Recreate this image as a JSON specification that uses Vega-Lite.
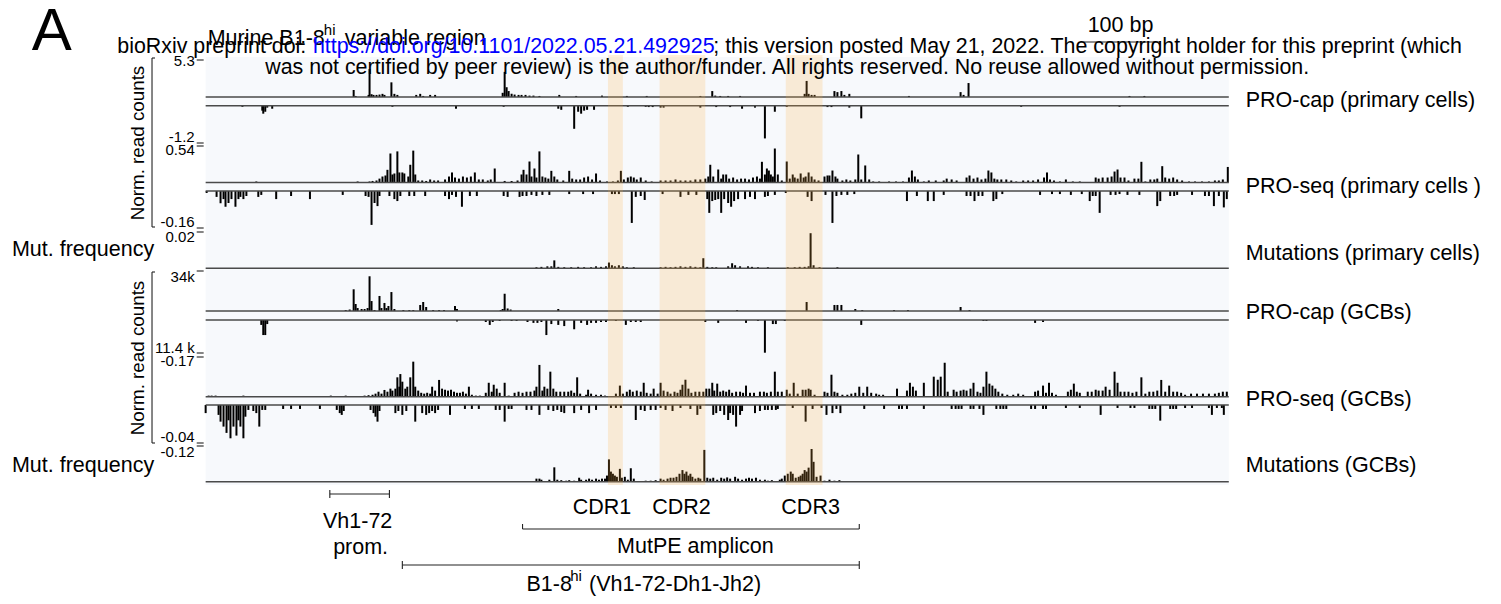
{
"$schema":"https://vega.github.io/schema/vega-lite/v6.json",
"width":1501,"height":604,"padding":0,"autosize":{"type":"none"},
"background":"#ffffff",
"config":{"view":{"stroke":null},"font":"Liberation Sans"},
"datasets":{
"panel":[{"start":0,"end":1030,"top":57,"bottom":485}],
"cdr":[{"region":"CDR1","start":405,"end":420},{"region":"CDR2","start":457,"end":503},{"region":"CDR3","start":584,"end":621}],
"baselines":[{"ly":97},{"ly":105.7},{"ly":182.5},{"ly":191},{"ly":268.3},{"ly":311},{"ly":320},{"ly":396.7},{"ly":405},{"ly":481.7}],
"segments":[
{"start":-9,"end":-2,"ly":60,"ly2":60},{"start":-9,"end":-2,"ly":143,"ly2":143},{"start":-9,"end":-2,"ly":146,"ly2":146},
{"start":-9,"end":-2,"ly":228,"ly2":228},{"start":-9,"end":-2,"ly":232,"ly2":232},{"start":-9,"end":-2,"ly":271,"ly2":271},
{"start":-9,"end":-2,"ly":353,"ly2":353},{"start":-9,"end":-2,"ly":357,"ly2":357},{"start":-9,"end":-2,"ly":443,"ly2":443},{"start":-9,"end":-2,"ly":446,"ly2":446},
{"start":-54,"end":-51,"ly":58,"ly2":58},{"start":-54,"end":-51,"ly":227,"ly2":227},{"start":-54,"end":-54,"ly":58,"ly2":227},
{"start":-54,"end":-51,"ly":272,"ly2":272},{"start":-54,"end":-51,"ly":443,"ly2":443},{"start":-54,"end":-54,"ly":272,"ly2":443},
{"start":880,"end":961,"ly":42,"ly2":42},
{"start":125,"end":185,"ly":494,"ly2":494},{"start":125,"end":125,"ly":490,"ly2":498},{"start":185,"end":185,"ly":490,"ly2":498},
{"start":319,"end":658,"ly":529,"ly2":529},{"start":319,"end":319,"ly":524,"ly2":529},{"start":658,"end":658,"ly":524,"ly2":529},
{"start":198,"end":658,"ly":565,"ly2":565},{"start":198,"end":198,"ly":561,"ly2":569},{"start":658,"end":658,"ly":561,"ly2":569}
],
"labels_left":[
{"pos":-195,"ly":250,"label":"Mut. frequency"},{"pos":-195,"ly":466,"label":"Mut. frequency"},
{"pos":1047,"ly":101,"label":"PRO-cap (primary cells)"},{"pos":1047,"ly":187,"label":"PRO-seq (primary cells )"},
{"pos":1047,"ly":254,"label":"Mutations (primary cells)"},{"pos":1047,"ly":313,"label":"PRO-cap (GCBs)"},
{"pos":1047,"ly":400,"label":"PRO-seq (GCBs)"},{"pos":1047,"ly":466,"label":"Mutations (GCBs)"},
{"pos":2,"ly":39,"label":"Murine B1-8"},{"pos":140,"ly":39,"label":"variable region"},
{"pos":323,"ly":585,"label":"B1-8"},{"pos":386,"ly":585,"label":"(Vh1-72-Dh1-Jh2)"}
],
"header_black":[
{"pos":-89,"ly":47,"label":"bioRxiv preprint doi: "},
{"pos":511,"ly":47,"label":"; this version posted May 21, 2022. The copyright holder for this preprint (which"},
{"pos":60,"ly":68,"label":"was not certified by peer review) is the author/funder. All rights reserved. No reuse allowed without permission."}
],
"header_blue":[{"pos":108,"ly":47,"label":"https://doi.org/10.1101/2022.05.21.492925"}],
"labels_center":[
{"pos":921,"ly":26,"label":"100 bp"},{"pos":153,"ly":522,"label":"Vh1-72"},{"pos":156,"ly":548,"label":"prom."},
{"pos":399,"ly":508,"label":"CDR1"},{"pos":479,"ly":508,"label":"CDR2"},{"pos":609,"ly":508,"label":"CDR3"},
{"pos":493,"ly":547,"label":"MutPE amplicon"}
],
"labels_sup":[{"pos":119,"ly":30,"label":"hi"},{"pos":367,"ly":576,"label":"hi"}],
"tick_labels":[
{"pos":-11,"ly":61,"label":"5.3"},{"pos":-11,"ly":137,"label":"-1.2"},{"pos":-11,"ly":150,"label":"0.54"},
{"pos":-11,"ly":222,"label":"-0.16"},{"pos":-11,"ly":237,"label":"0.02"},{"pos":-11,"ly":277,"label":"34k"},
{"pos":-11,"ly":348,"label":"11.4 k"},{"pos":-11,"ly":361,"label":"-0.17"},{"pos":-11,"ly":437,"label":"-0.04"},
{"pos":-11,"ly":452,"label":"-0.12"}
],
"axis_titles":[{"pos":-68,"ly":143,"label":"Norm. read counts"},{"pos":-68,"ly":358,"label":"Norm. read counts"}],
"panel_letter":[{"pos":-175,"ly":32,"label":"A"}],
"pcap_prim_plus":[
{"pos":149,"value":1.0},{"pos":151,"value":0.15},{"pos":164,"value":0.3},{"pos":165,"value":4.0},{"pos":167,"value":0.4},{"pos":169,"value":0.3},{"pos":172,"value":0.3},{"pos":175,"value":0.35},{"pos":178,"value":0.45},{"pos":180,"value":0.3},{"pos":187,"value":2.1},{"pos":190,"value":0.45},{"pos":193,"value":0.3},{"pos":212,"value":0.3},{"pos":216,"value":0.45},{"pos":219,"value":0.15},{"pos":226,"value":0.3},{"pos":231,"value":0.3},{"pos":299,"value":0.6},{"pos":301,"value":3.6},{"pos":303,"value":1.4},{"pos":305,"value":0.85},{"pos":308,"value":0.45},{"pos":311,"value":0.35},{"pos":315,"value":0.3},{"pos":318,"value":0.3},{"pos":322,"value":0.3},{"pos":326,"value":0.2},{"pos":330,"value":0.2},{"pos":336,"value":0.15},{"pos":356,"value":0.3},{"pos":373,"value":0.15},{"pos":399,"value":0.2},{"pos":424,"value":0.15},{"pos":444,"value":0.15},{"pos":498,"value":0.15},{"pos":510,"value":0.85},{"pos":513,"value":0.2},{"pos":518,"value":0.15},{"pos":526,"value":0.15},{"pos":538,"value":0.15},{"pos":603,"value":0.45},{"pos":605,"value":2.3},{"pos":607,"value":0.45},{"pos":610,"value":0.3},{"pos":613,"value":0.3},{"pos":633,"value":0.85},{"pos":636,"value":0.7},{"pos":640,"value":0.85},{"pos":643,"value":0.3},{"pos":648,"value":0.45},{"pos":708,"value":0.15},{"pos":760,"value":0.7},{"pos":763,"value":0.3},{"pos":768,"value":2.0},{"pos":930,"value":0.15},{"pos":945,"value":0.15}
],
"pcap_prim_minus":[
{"pos":37,"value":-0.04},{"pos":57,"value":-0.18},{"pos":58,"value":-0.29},{"pos":60,"value":-0.22},{"pos":62,"value":-0.07},{"pos":67,"value":-0.11},{"pos":188,"value":-0.04},{"pos":252,"value":-0.11},{"pos":300,"value":-0.04},{"pos":355,"value":-0.11},{"pos":358,"value":-0.15},{"pos":371,"value":-0.84},{"pos":375,"value":-0.22},{"pos":378,"value":-0.29},{"pos":381,"value":-0.18},{"pos":384,"value":-0.15},{"pos":391,"value":-0.15},{"pos":425,"value":-0.04},{"pos":443,"value":-0.04},{"pos":446,"value":-0.05},{"pos":450,"value":-0.05},{"pos":458,"value":-0.07},{"pos":461,"value":-0.07},{"pos":498,"value":-0.07},{"pos":514,"value":-0.05},{"pos":528,"value":-0.05},{"pos":540,"value":-0.11},{"pos":553,"value":-0.07},{"pos":563,"value":-1.19},{"pos":573,"value":-0.22},{"pos":585,"value":-0.04},{"pos":626,"value":-0.05},{"pos":630,"value":-0.05},{"pos":648,"value":-0.07},{"pos":660,"value":-0.46},{"pos":821,"value":-0.04},{"pos":920,"value":-0.04}
],
"pseq_prim_plus":[
{"pos":51,"value":0.013},{"pos":153,"value":0.013},{"pos":165,"value":0.013},{"pos":168,"value":0.02},{"pos":172,"value":0.026},{"pos":175,"value":0.05},{"pos":178,"value":0.077},{"pos":181,"value":0.09},{"pos":183,"value":0.163},{"pos":186,"value":0.373},{"pos":188,"value":0.103},{"pos":190,"value":0.116},{"pos":193,"value":0.4},{"pos":195,"value":0.129},{"pos":198,"value":0.129},{"pos":200,"value":0.116},{"pos":204,"value":0.077},{"pos":206,"value":0.228},{"pos":209,"value":0.41},{"pos":211,"value":0.103},{"pos":214,"value":0.026},{"pos":218,"value":0.026},{"pos":222,"value":0.02},{"pos":226,"value":0.039},{"pos":230,"value":0.026},{"pos":234,"value":0.026},{"pos":241,"value":0.039},{"pos":245,"value":0.077},{"pos":248,"value":0.129},{"pos":251,"value":0.064},{"pos":255,"value":0.05},{"pos":259,"value":0.077},{"pos":263,"value":0.064},{"pos":267,"value":0.077},{"pos":271,"value":0.129},{"pos":275,"value":0.039},{"pos":279,"value":0.039},{"pos":284,"value":0.026},{"pos":287,"value":0.039},{"pos":291,"value":0.18},{"pos":301,"value":0.02},{"pos":308,"value":0.02},{"pos":314,"value":0.026},{"pos":318,"value":0.103},{"pos":320,"value":0.163},{"pos":323,"value":0.103},{"pos":326,"value":0.27},{"pos":328,"value":0.077},{"pos":331,"value":0.18},{"pos":333,"value":0.064},{"pos":336,"value":0.4},{"pos":339,"value":0.077},{"pos":342,"value":0.064},{"pos":345,"value":0.05},{"pos":348,"value":0.15},{"pos":351,"value":0.077},{"pos":354,"value":0.039},{"pos":360,"value":0.026},{"pos":366,"value":0.15},{"pos":369,"value":0.05},{"pos":373,"value":0.039},{"pos":377,"value":0.039},{"pos":381,"value":0.064},{"pos":385,"value":0.077},{"pos":389,"value":0.039},{"pos":393,"value":0.116},{"pos":397,"value":0.026},{"pos":404,"value":0.013},{"pos":410,"value":0.013},{"pos":415,"value":0.026},{"pos":418,"value":0.15},{"pos":421,"value":0.039},{"pos":425,"value":0.064},{"pos":428,"value":0.077},{"pos":431,"value":0.064},{"pos":434,"value":0.039},{"pos":438,"value":0.064},{"pos":443,"value":0.026},{"pos":449,"value":0.013},{"pos":458,"value":0.026},{"pos":463,"value":0.026},{"pos":468,"value":0.026},{"pos":473,"value":0.039},{"pos":478,"value":0.026},{"pos":483,"value":0.026},{"pos":488,"value":0.026},{"pos":493,"value":0.039},{"pos":498,"value":0.039},{"pos":503,"value":0.05},{"pos":506,"value":0.077},{"pos":508,"value":0.228},{"pos":511,"value":0.077},{"pos":516,"value":0.167},{"pos":519,"value":0.05},{"pos":521,"value":0.103},{"pos":524,"value":0.103},{"pos":527,"value":0.05},{"pos":531,"value":0.064},{"pos":535,"value":0.039},{"pos":539,"value":0.05},{"pos":543,"value":0.05},{"pos":547,"value":0.039},{"pos":551,"value":0.064},{"pos":555,"value":0.077},{"pos":558,"value":0.05},{"pos":560,"value":0.266},{"pos":563,"value":0.103},{"pos":565,"value":0.18},{"pos":567,"value":0.154},{"pos":569,"value":0.103},{"pos":571,"value":0.077},{"pos":573,"value":0.437},{"pos":576,"value":0.103},{"pos":580,"value":0.026},{"pos":585,"value":0.27},{"pos":588,"value":0.05},{"pos":591,"value":0.103},{"pos":593,"value":0.064},{"pos":596,"value":0.05},{"pos":599,"value":0.116},{"pos":602,"value":0.064},{"pos":604,"value":0.077},{"pos":607,"value":0.129},{"pos":610,"value":0.077},{"pos":613,"value":0.039},{"pos":617,"value":0.026},{"pos":623,"value":0.077},{"pos":626,"value":0.09},{"pos":628,"value":0.09},{"pos":631,"value":0.154},{"pos":634,"value":0.077},{"pos":636,"value":0.05},{"pos":641,"value":0.026},{"pos":645,"value":0.039},{"pos":649,"value":0.026},{"pos":654,"value":0.039},{"pos":657,"value":0.36},{"pos":660,"value":0.039},{"pos":664,"value":0.219},{"pos":668,"value":0.039},{"pos":672,"value":0.013},{"pos":678,"value":0.013},{"pos":688,"value":0.013},{"pos":695,"value":0.013},{"pos":702,"value":0.013},{"pos":708,"value":0.064},{"pos":711,"value":0.154},{"pos":714,"value":0.077},{"pos":717,"value":0.039},{"pos":723,"value":0.013},{"pos":728,"value":0.026},{"pos":735,"value":0.026},{"pos":743,"value":0.026},{"pos":746,"value":0.05},{"pos":751,"value":0.039},{"pos":756,"value":0.026},{"pos":766,"value":0.064},{"pos":769,"value":0.09},{"pos":773,"value":0.05},{"pos":777,"value":0.064},{"pos":781,"value":0.039},{"pos":785,"value":0.05},{"pos":788,"value":0.154},{"pos":791,"value":0.129},{"pos":794,"value":0.05},{"pos":797,"value":0.039},{"pos":801,"value":0.039},{"pos":806,"value":0.039},{"pos":811,"value":0.026},{"pos":816,"value":0.013},{"pos":823,"value":0.026},{"pos":828,"value":0.026},{"pos":833,"value":0.026},{"pos":838,"value":0.039},{"pos":844,"value":0.064},{"pos":847,"value":0.129},{"pos":850,"value":0.039},{"pos":854,"value":0.026},{"pos":860,"value":0.013},{"pos":866,"value":0.039},{"pos":873,"value":0.013},{"pos":880,"value":0.013},{"pos":896,"value":0.064},{"pos":899,"value":0.05},{"pos":903,"value":0.064},{"pos":908,"value":0.064},{"pos":912,"value":0.077},{"pos":915,"value":0.141},{"pos":918,"value":0.167},{"pos":921,"value":0.064},{"pos":925,"value":0.064},{"pos":929,"value":0.026},{"pos":935,"value":0.05},{"pos":939,"value":0.05},{"pos":942,"value":0.266},{"pos":946,"value":0.013},{"pos":951,"value":0.039},{"pos":955,"value":0.039},{"pos":958,"value":0.05},{"pos":963,"value":0.21},{"pos":966,"value":0.064},{"pos":970,"value":0.05},{"pos":974,"value":0.064},{"pos":978,"value":0.039},{"pos":983,"value":0.026},{"pos":990,"value":0.013},{"pos":996,"value":0.013},{"pos":1003,"value":0.013},{"pos":1010,"value":0.013},{"pos":1016,"value":0.026},{"pos":1020,"value":0.026},{"pos":1024,"value":0.039},{"pos":1029,"value":0.2}
],
"pseq_prim_minus":[
{"pos":1,"value":-0.009},{"pos":11,"value":-0.027},{"pos":15,"value":-0.056},{"pos":18,"value":-0.037},{"pos":20,"value":-0.072},{"pos":23,"value":-0.055},{"pos":26,"value":-0.037},{"pos":30,"value":-0.072},{"pos":33,"value":-0.037},{"pos":35,"value":-0.027},{"pos":38,"value":-0.037},{"pos":41,"value":-0.023},{"pos":53,"value":-0.027},{"pos":56,"value":-0.018},{"pos":71,"value":-0.037},{"pos":86,"value":-0.023},{"pos":105,"value":-0.037},{"pos":138,"value":-0.018},{"pos":161,"value":-0.023},{"pos":164,"value":-0.027},{"pos":167,"value":-0.155},{"pos":170,"value":-0.055},{"pos":173,"value":-0.069},{"pos":175,"value":-0.023},{"pos":185,"value":-0.023},{"pos":190,"value":-0.037},{"pos":193,"value":-0.046},{"pos":196,"value":-0.023},{"pos":205,"value":-0.023},{"pos":210,"value":-0.023},{"pos":221,"value":-0.023},{"pos":241,"value":-0.023},{"pos":245,"value":-0.037},{"pos":248,"value":-0.018},{"pos":252,"value":-0.027},{"pos":258,"value":-0.072},{"pos":266,"value":-0.023},{"pos":273,"value":-0.023},{"pos":300,"value":-0.023},{"pos":304,"value":-0.027},{"pos":316,"value":-0.027},{"pos":319,"value":-0.023},{"pos":323,"value":-0.023},{"pos":328,"value":-0.018},{"pos":333,"value":-0.023},{"pos":339,"value":-0.018},{"pos":346,"value":-0.018},{"pos":366,"value":-0.014},{"pos":380,"value":-0.014},{"pos":390,"value":-0.014},{"pos":409,"value":-0.014},{"pos":412,"value":-0.014},{"pos":416,"value":-0.014},{"pos":429,"value":-0.146},{"pos":433,"value":-0.027},{"pos":438,"value":-0.023},{"pos":442,"value":-0.041},{"pos":460,"value":-0.014},{"pos":478,"value":-0.027},{"pos":486,"value":-0.018},{"pos":494,"value":-0.018},{"pos":505,"value":-0.037},{"pos":507,"value":-0.1},{"pos":510,"value":-0.046},{"pos":513,"value":-0.041},{"pos":516,"value":-0.037},{"pos":519,"value":-0.1},{"pos":522,"value":-0.037},{"pos":526,"value":-0.055},{"pos":529,"value":-0.072},{"pos":532,"value":-0.046},{"pos":536,"value":-0.037},{"pos":543,"value":-0.037},{"pos":548,"value":-0.027},{"pos":553,"value":-0.037},{"pos":563,"value":-0.027},{"pos":566,"value":-0.023},{"pos":573,"value":-0.018},{"pos":584,"value":-0.009},{"pos":606,"value":-0.027},{"pos":610,"value":-0.046},{"pos":624,"value":-0.018},{"pos":631,"value":-0.146},{"pos":635,"value":-0.023},{"pos":640,"value":-0.018},{"pos":646,"value":-0.018},{"pos":653,"value":-0.014},{"pos":706,"value":-0.046},{"pos":716,"value":-0.023},{"pos":727,"value":-0.046},{"pos":733,"value":-0.046},{"pos":743,"value":-0.018},{"pos":766,"value":-0.023},{"pos":770,"value":-0.023},{"pos":774,"value":-0.046},{"pos":778,"value":-0.023},{"pos":782,"value":-0.023},{"pos":793,"value":-0.046},{"pos":796,"value":-0.037},{"pos":802,"value":-0.014},{"pos":840,"value":-0.018},{"pos":852,"value":-0.014},{"pos":860,"value":-0.014},{"pos":871,"value":-0.018},{"pos":882,"value":-0.014},{"pos":890,"value":-0.046},{"pos":893,"value":-0.023},{"pos":896,"value":-0.023},{"pos":900,"value":-0.1},{"pos":911,"value":-0.018},{"pos":916,"value":-0.018},{"pos":920,"value":-0.014},{"pos":928,"value":-0.018},{"pos":940,"value":-0.018},{"pos":958,"value":-0.069},{"pos":961,"value":-0.046},{"pos":971,"value":-0.023},{"pos":975,"value":-0.023},{"pos":978,"value":-0.018},{"pos":993,"value":-0.018},{"pos":1006,"value":-0.023},{"pos":1010,"value":-0.023},{"pos":1015,"value":-0.069},{"pos":1020,"value":-0.023},{"pos":1025,"value":-0.075},{"pos":1028,"value":-0.037}
],
"mut_prim":[
{"pos":333,"value":0.0006},{"pos":338,"value":0.0008},{"pos":344,"value":0.0011},{"pos":348,"value":0.0011},{"pos":351,"value":0.0044},{"pos":355,"value":0.0008},{"pos":361,"value":0.0006},{"pos":368,"value":0.0006},{"pos":375,"value":0.0008},{"pos":381,"value":0.0006},{"pos":388,"value":0.0006},{"pos":393,"value":0.0011},{"pos":398,"value":0.0008},{"pos":403,"value":0.0011},{"pos":406,"value":0.0032},{"pos":409,"value":0.0017},{"pos":412,"value":0.0011},{"pos":416,"value":0.0017},{"pos":420,"value":0.0011},{"pos":424,"value":0.0006},{"pos":431,"value":0.0006},{"pos":458,"value":0.0006},{"pos":463,"value":0.0008},{"pos":468,"value":0.0006},{"pos":473,"value":0.0008},{"pos":478,"value":0.0011},{"pos":483,"value":0.0008},{"pos":488,"value":0.0011},{"pos":493,"value":0.0008},{"pos":498,"value":0.0006},{"pos":501,"value":0.0056},{"pos":505,"value":0.0008},{"pos":510,"value":0.0006},{"pos":514,"value":0.0006},{"pos":526,"value":0.0011},{"pos":530,"value":0.0028},{"pos":533,"value":0.0017},{"pos":538,"value":0.0011},{"pos":546,"value":0.0011},{"pos":550,"value":0.0008},{"pos":556,"value":0.0006},{"pos":566,"value":0.0006},{"pos":586,"value":0.0006},{"pos":593,"value":0.0006},{"pos":598,"value":0.0008},{"pos":603,"value":0.0008},{"pos":607,"value":0.0011},{"pos":609,"value":0.0195},{"pos":612,"value":0.0017},{"pos":618,"value":0.0006},{"pos":636,"value":0.0006}
],
"pcap_gcb_plus":[
{"pos":141,"value":900},{"pos":145,"value":1400},{"pos":149,"value":20500},{"pos":151,"value":6600},{"pos":153,"value":2800},{"pos":157,"value":1900},{"pos":160,"value":1900},{"pos":163,"value":2800},{"pos":165,"value":32800},{"pos":167,"value":9400},{"pos":170,"value":900},{"pos":175,"value":14200},{"pos":177,"value":2800},{"pos":180,"value":7600},{"pos":182,"value":2800},{"pos":184,"value":4700},{"pos":187,"value":17900},{"pos":190,"value":1900},{"pos":199,"value":900},{"pos":205,"value":900},{"pos":209,"value":900},{"pos":216,"value":5700},{"pos":219,"value":8500},{"pos":222,"value":3800},{"pos":229,"value":900},{"pos":235,"value":900},{"pos":240,"value":900},{"pos":251,"value":4700},{"pos":253,"value":1900},{"pos":297,"value":900},{"pos":299,"value":1900},{"pos":301,"value":16300},{"pos":304,"value":2400},{"pos":307,"value":1400},{"pos":355,"value":1900},{"pos":535,"value":900},{"pos":605,"value":8500},{"pos":633,"value":5700},{"pos":636,"value":5700},{"pos":640,"value":5700},{"pos":654,"value":1900},{"pos":661,"value":900},{"pos":693,"value":900},{"pos":707,"value":900},{"pos":760,"value":3800},{"pos":769,"value":900}
],
"pcap_gcb_minus":[
{"pos":56,"value":-1700},{"pos":58,"value":-5200},{"pos":60,"value":-5200},{"pos":62,"value":-1400},{"pos":253,"value":-500},{"pos":282,"value":-700},{"pos":286,"value":-1700},{"pos":289,"value":-700},{"pos":296,"value":-350},{"pos":308,"value":-350},{"pos":313,"value":-350},{"pos":324,"value":-700},{"pos":330,"value":-1000},{"pos":334,"value":-1000},{"pos":338,"value":-700},{"pos":343,"value":-5200},{"pos":348,"value":-1400},{"pos":355,"value":-1700},{"pos":361,"value":-2100},{"pos":371,"value":-3200},{"pos":378,"value":-1000},{"pos":384,"value":-1700},{"pos":388,"value":-1000},{"pos":393,"value":-1000},{"pos":398,"value":-700},{"pos":403,"value":-700},{"pos":413,"value":-350},{"pos":423,"value":-1700},{"pos":428,"value":-700},{"pos":433,"value":-700},{"pos":438,"value":-700},{"pos":503,"value":-700},{"pos":516,"value":-1000},{"pos":544,"value":-1000},{"pos":556,"value":-350},{"pos":563,"value":-11300},{"pos":571,"value":-1400},{"pos":574,"value":-1400},{"pos":583,"value":-350},{"pos":660,"value":-1700},{"pos":783,"value":-350},{"pos":786,"value":-350},{"pos":835,"value":-1000},{"pos":843,"value":-700}
],
"pseq_gcb_plus":[
{"pos":3,"value":0.005},{"pos":6,"value":0.005},{"pos":10,"value":0.005},{"pos":38,"value":0.005},{"pos":126,"value":0.005},{"pos":141,"value":0.005},{"pos":160,"value":0.005},{"pos":164,"value":0.007},{"pos":168,"value":0.009},{"pos":171,"value":0.014},{"pos":174,"value":0.023},{"pos":177,"value":0.014},{"pos":180,"value":0.031},{"pos":183,"value":0.023},{"pos":186,"value":0.037},{"pos":188,"value":0.028},{"pos":191,"value":0.037},{"pos":193,"value":0.089},{"pos":195,"value":0.046},{"pos":196,"value":0.104},{"pos":198,"value":0.069},{"pos":201,"value":0.037},{"pos":203,"value":0.046},{"pos":206,"value":0.089},{"pos":209,"value":0.161},{"pos":211,"value":0.046},{"pos":214,"value":0.028},{"pos":217,"value":0.018},{"pos":220,"value":0.014},{"pos":223,"value":0.018},{"pos":226,"value":0.014},{"pos":228,"value":0.046},{"pos":231,"value":0.028},{"pos":235,"value":0.077},{"pos":238,"value":0.037},{"pos":241,"value":0.032},{"pos":244,"value":0.028},{"pos":247,"value":0.032},{"pos":250,"value":0.023},{"pos":253,"value":0.018},{"pos":256,"value":0.018},{"pos":259,"value":0.023},{"pos":262,"value":0.014},{"pos":265,"value":0.046},{"pos":268,"value":0.009},{"pos":272,"value":0.005},{"pos":276,"value":0.005},{"pos":282,"value":0.018},{"pos":285,"value":0.064},{"pos":288,"value":0.023},{"pos":290,"value":0.055},{"pos":293,"value":0.037},{"pos":296,"value":0.018},{"pos":301,"value":0.064},{"pos":305,"value":0.005},{"pos":311,"value":0.018},{"pos":315,"value":0.023},{"pos":319,"value":0.018},{"pos":323,"value":0.023},{"pos":327,"value":0.023},{"pos":331,"value":0.028},{"pos":333,"value":0.046},{"pos":336,"value":0.146},{"pos":339,"value":0.028},{"pos":341,"value":0.046},{"pos":344,"value":0.037},{"pos":347,"value":0.115},{"pos":350,"value":0.037},{"pos":353,"value":0.023},{"pos":357,"value":0.023},{"pos":361,"value":0.023},{"pos":365,"value":0.023},{"pos":368,"value":0.028},{"pos":371,"value":0.018},{"pos":374,"value":0.089},{"pos":377,"value":0.014},{"pos":383,"value":0.009},{"pos":385,"value":0.032},{"pos":388,"value":0.014},{"pos":393,"value":0.009},{"pos":398,"value":0.009},{"pos":402,"value":0.005},{"pos":413,"value":0.014},{"pos":417,"value":0.051},{"pos":420,"value":0.014},{"pos":424,"value":0.023},{"pos":427,"value":0.032},{"pos":430,"value":0.023},{"pos":434,"value":0.028},{"pos":438,"value":0.023},{"pos":441,"value":0.064},{"pos":444,"value":0.018},{"pos":448,"value":0.014},{"pos":451,"value":0.037},{"pos":455,"value":0.014},{"pos":458,"value":0.064},{"pos":461,"value":0.028},{"pos":465,"value":0.023},{"pos":468,"value":0.014},{"pos":472,"value":0.023},{"pos":475,"value":0.018},{"pos":478,"value":0.032},{"pos":480,"value":0.055},{"pos":483,"value":0.078},{"pos":486,"value":0.037},{"pos":489,"value":0.018},{"pos":493,"value":0.023},{"pos":497,"value":0.023},{"pos":501,"value":0.023},{"pos":504,"value":0.037},{"pos":507,"value":0.037},{"pos":510,"value":0.064},{"pos":512,"value":0.028},{"pos":515,"value":0.06},{"pos":518,"value":0.023},{"pos":521,"value":0.028},{"pos":524,"value":0.023},{"pos":527,"value":0.032},{"pos":530,"value":0.018},{"pos":534,"value":0.023},{"pos":538,"value":0.023},{"pos":541,"value":0.018},{"pos":544,"value":0.051},{"pos":548,"value":0.018},{"pos":552,"value":0.018},{"pos":558,"value":0.023},{"pos":562,"value":0.023},{"pos":565,"value":0.018},{"pos":569,"value":0.023},{"pos":573,"value":0.115},{"pos":576,"value":0.023},{"pos":580,"value":0.023},{"pos":585,"value":0.032},{"pos":588,"value":0.014},{"pos":592,"value":0.064},{"pos":596,"value":0.014},{"pos":601,"value":0.032},{"pos":604,"value":0.032},{"pos":607,"value":0.037},{"pos":609,"value":0.032},{"pos":613,"value":0.009},{"pos":623,"value":0.023},{"pos":626,"value":0.018},{"pos":630,"value":0.101},{"pos":633,"value":0.023},{"pos":636,"value":0.018},{"pos":641,"value":0.009},{"pos":646,"value":0.009},{"pos":650,"value":0.014},{"pos":654,"value":0.018},{"pos":658,"value":0.046},{"pos":662,"value":0.018},{"pos":666,"value":0.046},{"pos":670,"value":0.018},{"pos":675,"value":0.014},{"pos":678,"value":0.009},{"pos":682,"value":0.009},{"pos":696,"value":0.037},{"pos":706,"value":0.028},{"pos":709,"value":0.064},{"pos":712,"value":0.046},{"pos":715,"value":0.028},{"pos":723,"value":0.064},{"pos":733,"value":0.092},{"pos":737,"value":0.078},{"pos":740,"value":0.092},{"pos":744,"value":0.156},{"pos":747,"value":0.023},{"pos":753,"value":0.032},{"pos":756,"value":0.023},{"pos":760,"value":0.028},{"pos":763,"value":0.032},{"pos":766,"value":0.028},{"pos":770,"value":0.037},{"pos":773,"value":0.064},{"pos":777,"value":0.023},{"pos":780,"value":0.018},{"pos":783,"value":0.046},{"pos":786,"value":0.115},{"pos":789,"value":0.06},{"pos":792,"value":0.051},{"pos":795,"value":0.037},{"pos":798,"value":0.023},{"pos":802,"value":0.014},{"pos":807,"value":0.009},{"pos":813,"value":0.009},{"pos":818,"value":0.014},{"pos":823,"value":0.009},{"pos":835,"value":0.023},{"pos":838,"value":0.028},{"pos":843,"value":0.051},{"pos":846,"value":0.018},{"pos":849,"value":0.064},{"pos":852,"value":0.018},{"pos":856,"value":0.009},{"pos":868,"value":0.023},{"pos":871,"value":0.032},{"pos":874,"value":0.06},{"pos":877,"value":0.023},{"pos":880,"value":0.018},{"pos":888,"value":0.023},{"pos":892,"value":0.023},{"pos":896,"value":0.032},{"pos":899,"value":0.028},{"pos":903,"value":0.028},{"pos":906,"value":0.046},{"pos":910,"value":0.032},{"pos":915,"value":0.115},{"pos":918,"value":0.064},{"pos":921,"value":0.023},{"pos":925,"value":0.023},{"pos":929,"value":0.023},{"pos":933,"value":0.018},{"pos":937,"value":0.023},{"pos":942,"value":0.089},{"pos":946,"value":0.014},{"pos":950,"value":0.023},{"pos":954,"value":0.023},{"pos":958,"value":0.028},{"pos":962,"value":0.077},{"pos":966,"value":0.023},{"pos":970,"value":0.051},{"pos":974,"value":0.023},{"pos":978,"value":0.023},{"pos":982,"value":0.018},{"pos":986,"value":0.009},{"pos":992,"value":0.014},{"pos":998,"value":0.014},{"pos":1004,"value":0.014},{"pos":1010,"value":0.014},{"pos":1016,"value":0.014},{"pos":1020,"value":0.018},{"pos":1024,"value":0.023},{"pos":1028,"value":0.023}
],
"pseq_gcb_minus":[
{"pos":0,"value":-0.009},{"pos":13,"value":-0.011},{"pos":15,"value":-0.0185},{"pos":18,"value":-0.024},{"pos":21,"value":-0.031},{"pos":23,"value":-0.017},{"pos":25,"value":-0.037},{"pos":28,"value":-0.024},{"pos":31,"value":-0.034},{"pos":33,"value":-0.017},{"pos":35,"value":-0.024},{"pos":38,"value":-0.037},{"pos":40,"value":-0.013},{"pos":43,"value":-0.0055},{"pos":48,"value":-0.0067},{"pos":51,"value":-0.009},{"pos":54,"value":-0.024},{"pos":57,"value":-0.0055},{"pos":60,"value":-0.0055},{"pos":78,"value":-0.0044},{"pos":86,"value":-0.0044},{"pos":95,"value":-0.0044},{"pos":115,"value":-0.0044},{"pos":132,"value":-0.0055},{"pos":135,"value":-0.009},{"pos":137,"value":-0.011},{"pos":139,"value":-0.0067},{"pos":166,"value":-0.0055},{"pos":169,"value":-0.009},{"pos":171,"value":-0.013},{"pos":173,"value":-0.0185},{"pos":175,"value":-0.0067},{"pos":191,"value":-0.009},{"pos":194,"value":-0.0067},{"pos":198,"value":-0.011},{"pos":202,"value":-0.0067},{"pos":211,"value":-0.0185},{"pos":218,"value":-0.009},{"pos":222,"value":-0.011},{"pos":225,"value":-0.009},{"pos":228,"value":-0.0067},{"pos":231,"value":-0.009},{"pos":234,"value":-0.0055},{"pos":246,"value":-0.011},{"pos":261,"value":-0.0044},{"pos":268,"value":-0.0044},{"pos":275,"value":-0.0044},{"pos":292,"value":-0.0055},{"pos":296,"value":-0.0055},{"pos":301,"value":-0.0185},{"pos":305,"value":-0.0044},{"pos":308,"value":-0.0044},{"pos":323,"value":-0.0055},{"pos":328,"value":-0.0055},{"pos":336,"value":-0.011},{"pos":345,"value":-0.0055},{"pos":350,"value":-0.0067},{"pos":354,"value":-0.0055},{"pos":358,"value":-0.0078},{"pos":361,"value":-0.009},{"pos":371,"value":-0.009},{"pos":378,"value":-0.0055},{"pos":386,"value":-0.009},{"pos":393,"value":-0.0055},{"pos":408,"value":-0.0033},{"pos":413,"value":-0.0033},{"pos":418,"value":-0.0033},{"pos":433,"value":-0.0167},{"pos":438,"value":-0.0055},{"pos":442,"value":-0.0067},{"pos":448,"value":-0.0055},{"pos":453,"value":-0.0055},{"pos":458,"value":-0.0033},{"pos":463,"value":-0.0055},{"pos":470,"value":-0.0067},{"pos":478,"value":-0.0033},{"pos":488,"value":-0.0044},{"pos":495,"value":-0.011},{"pos":498,"value":-0.0044},{"pos":511,"value":-0.011},{"pos":514,"value":-0.009},{"pos":518,"value":-0.0067},{"pos":522,"value":-0.011},{"pos":526,"value":-0.0167},{"pos":528,"value":-0.009},{"pos":531,"value":-0.011},{"pos":534,"value":-0.024},{"pos":538,"value":-0.011},{"pos":540,"value":-0.0067},{"pos":553,"value":-0.009},{"pos":558,"value":-0.0067},{"pos":563,"value":-0.0055},{"pos":566,"value":-0.0055},{"pos":570,"value":-0.0055},{"pos":574,"value":-0.0055},{"pos":576,"value":-0.0044},{"pos":591,"value":-0.0033},{"pos":604,"value":-0.0185},{"pos":611,"value":-0.0044},{"pos":620,"value":-0.0033},{"pos":625,"value":-0.011},{"pos":631,"value":-0.009},{"pos":635,"value":-0.0044},{"pos":639,"value":-0.009},{"pos":663,"value":-0.0044},{"pos":683,"value":-0.0044},{"pos":698,"value":-0.0044},{"pos":701,"value":-0.0044},{"pos":706,"value":-0.0044},{"pos":723,"value":-0.0044},{"pos":751,"value":-0.0044},{"pos":755,"value":-0.0044},{"pos":758,"value":-0.0044},{"pos":761,"value":-0.0044},{"pos":770,"value":-0.0044},{"pos":773,"value":-0.0044},{"pos":779,"value":-0.0044},{"pos":783,"value":-0.011},{"pos":796,"value":-0.0044},{"pos":800,"value":-0.0044},{"pos":803,"value":-0.0044},{"pos":806,"value":-0.0044},{"pos":831,"value":-0.0044},{"pos":835,"value":-0.0044},{"pos":843,"value":-0.0044},{"pos":846,"value":-0.0044},{"pos":866,"value":-0.0033},{"pos":880,"value":-0.0033},{"pos":901,"value":-0.011},{"pos":918,"value":-0.0033},{"pos":931,"value":-0.0033},{"pos":935,"value":-0.0033},{"pos":950,"value":-0.0044},{"pos":953,"value":-0.0044},{"pos":956,"value":-0.0044},{"pos":961,"value":-0.0174},{"pos":971,"value":-0.0044},{"pos":974,"value":-0.0044},{"pos":977,"value":-0.0044},{"pos":986,"value":-0.0033},{"pos":993,"value":-0.0033},{"pos":1010,"value":-0.0033},{"pos":1013,"value":-0.011},{"pos":1018,"value":-0.0033},{"pos":1023,"value":-0.0033},{"pos":1025,"value":-0.011}
],
"mut_gcb":[
{"pos":333,"value":0.01},{"pos":336,"value":0.01},{"pos":338,"value":0.0065},{"pos":346,"value":0.0065},{"pos":351,"value":0.047},{"pos":354,"value":0.0065},{"pos":358,"value":0.005},{"pos":363,"value":0.0033},{"pos":366,"value":0.005},{"pos":371,"value":0.0033},{"pos":376,"value":0.013},{"pos":378,"value":0.0065},{"pos":383,"value":0.0065},{"pos":386,"value":0.01},{"pos":389,"value":0.0065},{"pos":393,"value":0.01},{"pos":396,"value":0.0065},{"pos":399,"value":0.01},{"pos":402,"value":0.01},{"pos":404,"value":0.02},{"pos":406,"value":0.073},{"pos":408,"value":0.033},{"pos":410,"value":0.026},{"pos":412,"value":0.02},{"pos":414,"value":0.016},{"pos":417,"value":0.042},{"pos":419,"value":0.013},{"pos":422,"value":0.016},{"pos":425,"value":0.0065},{"pos":428,"value":0.044},{"pos":431,"value":0.01},{"pos":443,"value":0.0033},{"pos":448,"value":0.0033},{"pos":453,"value":0.005},{"pos":458,"value":0.01},{"pos":461,"value":0.0065},{"pos":465,"value":0.01},{"pos":468,"value":0.013},{"pos":471,"value":0.013},{"pos":474,"value":0.016},{"pos":477,"value":0.026},{"pos":480,"value":0.038},{"pos":482,"value":0.026},{"pos":484,"value":0.033},{"pos":486,"value":0.02},{"pos":488,"value":0.026},{"pos":490,"value":0.016},{"pos":493,"value":0.01},{"pos":496,"value":0.013},{"pos":498,"value":0.01},{"pos":502,"value":0.104},{"pos":505,"value":0.013},{"pos":508,"value":0.01},{"pos":511,"value":0.013},{"pos":515,"value":0.0065},{"pos":519,"value":0.013},{"pos":522,"value":0.01},{"pos":525,"value":0.014},{"pos":528,"value":0.01},{"pos":533,"value":0.016},{"pos":536,"value":0.01},{"pos":540,"value":0.0065},{"pos":544,"value":0.01},{"pos":547,"value":0.013},{"pos":550,"value":0.01},{"pos":554,"value":0.013},{"pos":558,"value":0.0065},{"pos":563,"value":0.0065},{"pos":566,"value":0.0033},{"pos":570,"value":0.005},{"pos":578,"value":0.0065},{"pos":580,"value":0.01},{"pos":583,"value":0.02},{"pos":586,"value":0.026},{"pos":589,"value":0.033},{"pos":591,"value":0.026},{"pos":594,"value":0.013},{"pos":597,"value":0.016},{"pos":599,"value":0.02},{"pos":601,"value":0.026},{"pos":603,"value":0.038},{"pos":605,"value":0.033},{"pos":607,"value":0.046},{"pos":610,"value":0.107},{"pos":612,"value":0.065},{"pos":615,"value":0.016},{"pos":619,"value":0.02},{"pos":623,"value":0.0033},{"pos":628,"value":0.0065},{"pos":633,"value":0.0033},{"pos":638,"value":0.005}
]
},
"resolve":{"scale":{"y":"independent"}},
"layer":[
{"data":{"name":"panel"},"mark":{"type":"rect","color":"#f7f9fc"},
 "encoding":{"x":{"field":"start","type":"quantitative","scale":{"domain":[-202,1299],"nice":false,"zero":false},"axis":null},"x2":{"field":"end"},
 "y":{"field":"top","type":"quantitative","scale":{"domain":[0,604],"range":[0,604],"nice":false,"zero":false},"axis":null},"y2":{"field":"bottom"}}},
{"data":{"name":"pcap_prim_plus"},"mark":{"type":"bar","orient":"vertical","size":2,"color":"#000000"},
 "encoding":{"x":{"field":"pos","type":"quantitative","scale":{"domain":[-202,1299],"nice":false,"zero":false},"axis":null},
 "y":{"field":"value","type":"quantitative","scale":{"domain":[0,5.3],"range":[97,60],"nice":false},"axis":null},"y2":{"datum":0}}},
{"data":{"name":"pcap_prim_minus"},"mark":{"type":"bar","orient":"vertical","size":2,"color":"#000000"},
 "encoding":{"x":{"field":"pos","type":"quantitative","scale":{"domain":[-202,1299],"nice":false,"zero":false},"axis":null},
 "y":{"field":"value","type":"quantitative","scale":{"domain":[-1.2,0],"range":[138.7,105.7],"nice":false},"axis":null},"y2":{"datum":0}}},
{"data":{"name":"pseq_prim_plus"},"mark":{"type":"bar","orient":"vertical","size":2,"color":"#000000"},
 "encoding":{"x":{"field":"pos","type":"quantitative","scale":{"domain":[-202,1299],"nice":false,"zero":false},"axis":null},
 "y":{"field":"value","type":"quantitative","scale":{"domain":[0,0.54],"range":[182.5,140.5],"nice":false},"axis":null},"y2":{"datum":0}}},
{"data":{"name":"pseq_prim_minus"},"mark":{"type":"bar","orient":"vertical","size":2,"color":"#000000"},
 "encoding":{"x":{"field":"pos","type":"quantitative","scale":{"domain":[-202,1299],"nice":false,"zero":false},"axis":null},
 "y":{"field":"value","type":"quantitative","scale":{"domain":[-0.16,0],"range":[226,191],"nice":false},"axis":null},"y2":{"datum":0}}},
{"data":{"name":"mut_prim"},"mark":{"type":"bar","orient":"vertical","size":2,"color":"#000000"},
 "encoding":{"x":{"field":"pos","type":"quantitative","scale":{"domain":[-202,1299],"nice":false,"zero":false},"axis":null},
 "y":{"field":"value","type":"quantitative","scale":{"domain":[0,0.02],"range":[268.3,232.3],"nice":false},"axis":null},"y2":{"datum":0}}},
{"data":{"name":"pcap_gcb_plus"},"mark":{"type":"bar","orient":"vertical","size":2,"color":"#000000"},
 "encoding":{"x":{"field":"pos","type":"quantitative","scale":{"domain":[-202,1299],"nice":false,"zero":false},"axis":null},
 "y":{"field":"value","type":"quantitative","scale":{"domain":[0,34000],"range":[311,275],"nice":false},"axis":null},"y2":{"datum":0}}},
{"data":{"name":"pcap_gcb_minus"},"mark":{"type":"bar","orient":"vertical","size":2,"color":"#000000"},
 "encoding":{"x":{"field":"pos","type":"quantitative","scale":{"domain":[-202,1299],"nice":false,"zero":false},"axis":null},
 "y":{"field":"value","type":"quantitative","scale":{"domain":[-11400,0],"range":[353,320],"nice":false},"axis":null},"y2":{"datum":0}}},
{"data":{"name":"pseq_gcb_plus"},"mark":{"type":"bar","orient":"vertical","size":2,"color":"#000000"},
 "encoding":{"x":{"field":"pos","type":"quantitative","scale":{"domain":[-202,1299],"nice":false,"zero":false},"axis":null},
 "y":{"field":"value","type":"quantitative","scale":{"domain":[0,0.17],"range":[396.7,359.7],"nice":false},"axis":null},"y2":{"datum":0}}},
{"data":{"name":"pseq_gcb_minus"},"mark":{"type":"bar","orient":"vertical","size":2,"color":"#000000"},
 "encoding":{"x":{"field":"pos","type":"quantitative","scale":{"domain":[-202,1299],"nice":false,"zero":false},"axis":null},
 "y":{"field":"value","type":"quantitative","scale":{"domain":[-0.04,0],"range":[441,405],"nice":false},"axis":null},"y2":{"datum":0}}},
{"data":{"name":"mut_gcb"},"mark":{"type":"bar","orient":"vertical","size":2,"color":"#000000"},
 "encoding":{"x":{"field":"pos","type":"quantitative","scale":{"domain":[-202,1299],"nice":false,"zero":false},"axis":null},
 "y":{"field":"value","type":"quantitative","scale":{"domain":[0,0.12],"range":[481.7,445],"nice":false},"axis":null},"y2":{"datum":0}}},
{"data":{"name":"baselines"},"mark":{"type":"rule","color":"#4a4a4a","strokeWidth":1.4},
 "encoding":{"x":{"datum":0,"type":"quantitative","scale":{"domain":[-202,1299],"nice":false,"zero":false},"axis":null},"x2":{"datum":1030},
 "y":{"field":"ly","type":"quantitative","scale":{"domain":[0,604],"range":[0,604],"nice":false,"zero":false},"axis":null}}},
{"data":{"name":"cdr"},"mark":{"type":"rect","color":"#ffb043","opacity":0.2},
 "encoding":{"x":{"field":"start","type":"quantitative","scale":{"domain":[-202,1299],"nice":false,"zero":false},"axis":null},"x2":{"field":"end"},
 "y":{"datum":55,"type":"quantitative","scale":{"domain":[0,604],"range":[0,604],"nice":false,"zero":false},"axis":null},"y2":{"datum":485}}},
{"data":{"name":"segments"},"mark":{"type":"rule","color":"#222222","strokeWidth":1.1},
 "encoding":{"x":{"field":"start","type":"quantitative","scale":{"domain":[-202,1299],"nice":false,"zero":false},"axis":null},"x2":{"field":"end"},
 "y":{"field":"ly","type":"quantitative","scale":{"domain":[0,604],"range":[0,604],"nice":false,"zero":false},"axis":null},"y2":{"field":"ly2"}}},
{"data":{"name":"tick_labels"},"mark":{"type":"text","align":"right","baseline":"middle","fontSize":15,"color":"#000000","font":"Liberation Sans"},
 "encoding":{"x":{"field":"pos","type":"quantitative","scale":{"domain":[-202,1299],"nice":false,"zero":false},"axis":null},
 "y":{"field":"ly","type":"quantitative","scale":{"domain":[0,604],"range":[0,604],"nice":false,"zero":false},"axis":null},"text":{"field":"label"}}},
{"data":{"name":"axis_titles"},"mark":{"type":"text","align":"center","baseline":"middle","angle":270,"fontSize":18.8,"color":"#000000","font":"Liberation Sans"},
 "encoding":{"x":{"field":"pos","type":"quantitative","scale":{"domain":[-202,1299],"nice":false,"zero":false},"axis":null},
 "y":{"field":"ly","type":"quantitative","scale":{"domain":[0,604],"range":[0,604],"nice":false,"zero":false},"axis":null},"text":{"field":"label"}}},
{"data":{"name":"labels_left"},"mark":{"type":"text","align":"left","baseline":"middle","fontSize":21.5,"color":"#000000","font":"Liberation Sans"},
 "encoding":{"x":{"field":"pos","type":"quantitative","scale":{"domain":[-202,1299],"nice":false,"zero":false},"axis":null},
 "y":{"field":"ly","type":"quantitative","scale":{"domain":[0,604],"range":[0,604],"nice":false,"zero":false},"axis":null},"text":{"field":"label"}}},
{"data":{"name":"labels_center"},"mark":{"type":"text","align":"center","baseline":"middle","fontSize":21.5,"color":"#000000","font":"Liberation Sans"},
 "encoding":{"x":{"field":"pos","type":"quantitative","scale":{"domain":[-202,1299],"nice":false,"zero":false},"axis":null},
 "y":{"field":"ly","type":"quantitative","scale":{"domain":[0,604],"range":[0,604],"nice":false,"zero":false},"axis":null},"text":{"field":"label"}}},
{"data":{"name":"labels_sup"},"mark":{"type":"text","align":"left","baseline":"middle","fontSize":15,"color":"#000000","font":"Liberation Sans"},
 "encoding":{"x":{"field":"pos","type":"quantitative","scale":{"domain":[-202,1299],"nice":false,"zero":false},"axis":null},
 "y":{"field":"ly","type":"quantitative","scale":{"domain":[0,604],"range":[0,604],"nice":false,"zero":false},"axis":null},"text":{"field":"label"}}},
{"data":{"name":"header_black"},"mark":{"type":"text","align":"left","baseline":"middle","fontSize":21.4,"color":"#000000","font":"Liberation Sans"},
 "encoding":{"x":{"field":"pos","type":"quantitative","scale":{"domain":[-202,1299],"nice":false,"zero":false},"axis":null},
 "y":{"field":"ly","type":"quantitative","scale":{"domain":[0,604],"range":[0,604],"nice":false,"zero":false},"axis":null},"text":{"field":"label"}}},
{"data":{"name":"header_blue"},"mark":{"type":"text","align":"left","baseline":"middle","fontSize":21.4,"color":"#0000ff","font":"Liberation Sans"},
 "encoding":{"x":{"field":"pos","type":"quantitative","scale":{"domain":[-202,1299],"nice":false,"zero":false},"axis":null},
 "y":{"field":"ly","type":"quantitative","scale":{"domain":[0,604],"range":[0,604],"nice":false,"zero":false},"axis":null},"text":{"field":"label"}}},
{"data":{"name":"panel_letter"},"mark":{"type":"text","align":"left","baseline":"middle","fontSize":60,"color":"#000000","font":"Liberation Sans"},
 "encoding":{"x":{"field":"pos","type":"quantitative","scale":{"domain":[-202,1299],"nice":false,"zero":false},"axis":null},
 "y":{"field":"ly","type":"quantitative","scale":{"domain":[0,604],"range":[0,604],"nice":false,"zero":false},"axis":null},"text":{"field":"label"}}}
]
}
